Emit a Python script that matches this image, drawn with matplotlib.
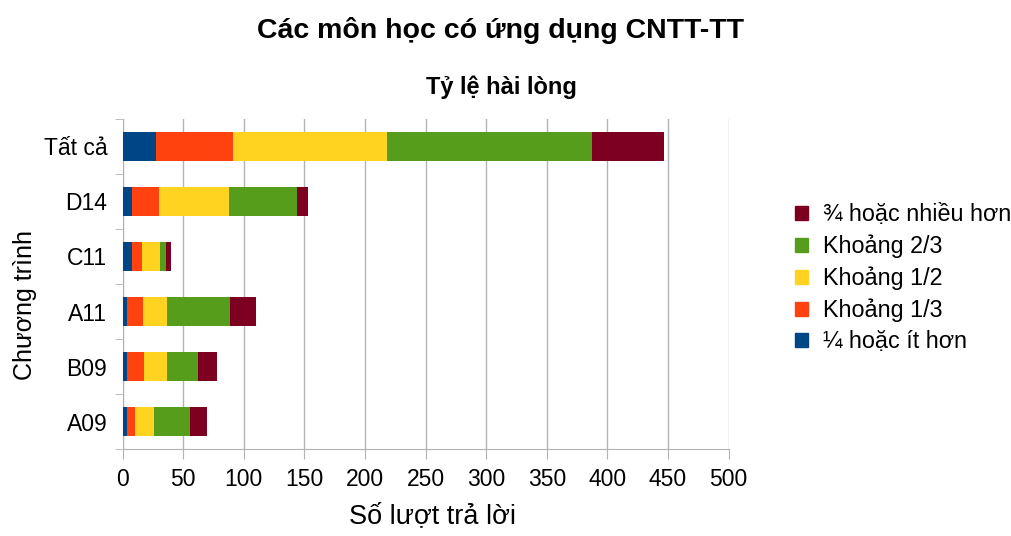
import matplotlib.pyplot as plt
from matplotlib.patches import Patch
import numpy as np

plt.rcParams['font.family'] = ['Liberation Sans', 'DejaVu Sans']

# data
programs = ["Tất cả", "D14", "C11", "A11", "B09", "A09"]
levels = ["¼ hoặc ít hơn", "Khoảng 1/3", "Khoảng 1/2", "Khoảng 2/3", "¾ hoặc nhiều hơn"]
quarter_or_less = [28, 8, 8, 4, 4, 4]
about_third = [63, 22, 8, 13, 14, 6]
about_half = [127, 58, 15, 20, 19, 16]
about_two_thirds = [169, 56, 5, 52, 25, 30]
three_quarters_plus = [60, 9, 4, 21, 16, 14]
colors = ["#004586", "#ff420e", "#ffd320", "#579d1c", "#7e0021"]

series = [quarter_or_less, about_third, about_half, about_two_thirds, three_quarters_plus]

fig = plt.figure(figsize=(10.11, 5.36), dpi=100)
ax = fig.add_axes([0.1212, 0.1623, 0.5994, 0.6157])

y = np.arange(len(programs))
left = np.zeros(len(programs))
for vals, col in zip(series, colors):
    ax.barh(y, vals, left=left, height=0.51, color=col, zorder=3)
    left += np.array(vals)

ax.set_xlim(0, 500)
ax.set_ylim(len(programs) - 0.5, -0.5)
ax.set_xticks(range(0, 501, 50))
ax.set_yticks(y)
ax.set_yticklabels(programs)
ax.set_yticks(np.arange(-0.5, len(programs), 1), minor=True)
ax.tick_params(axis='y', which='major', length=0, labelsize=16.5, pad=11)
ax.tick_params(axis='y', which='minor', length=6, color='#b3b3b3')
ax.tick_params(axis='x', length=7, color='#b3b3b3', labelsize=16.5, pad=7)
ax.grid(axis='x', color='#b3b3b3', linewidth=1, zorder=0)
for s in ['top', 'right']:
    ax.spines[s].set_visible(False)
for s in ['left', 'bottom']:
    ax.spines[s].set_color('#b3b3b3')

fig.text(0.428, 0.012, "Số lượt trả lời", fontsize=19.5, ha='center', va='bottom')
fig.text(0.025, 0.431, "Chương trình", fontsize=18, rotation=90,
         ha='center', va='center')

fig.text(0.4955, 0.944, "Các môn học có ứng dụng CNTT-TT", fontsize=20.5,
         fontweight='bold', ha='center', va='center')
fig.text(0.4955, 0.838, "Tỷ lệ hài lòng", fontsize=17,
         fontweight='bold', ha='center', va='center')

handles = [Patch(color=c, label=l) for c, l in zip(colors, levels)][::-1]
fig.legend(handles=handles, loc='center left', bbox_to_anchor=(0.786, 0.481),
           frameon=False, fontsize=16.8, handlelength=0.56, handleheight=0.56,
           handletextpad=0.64, labelspacing=0.36, borderaxespad=0, borderpad=0)

fig.savefig("out.png", dpi=100)
